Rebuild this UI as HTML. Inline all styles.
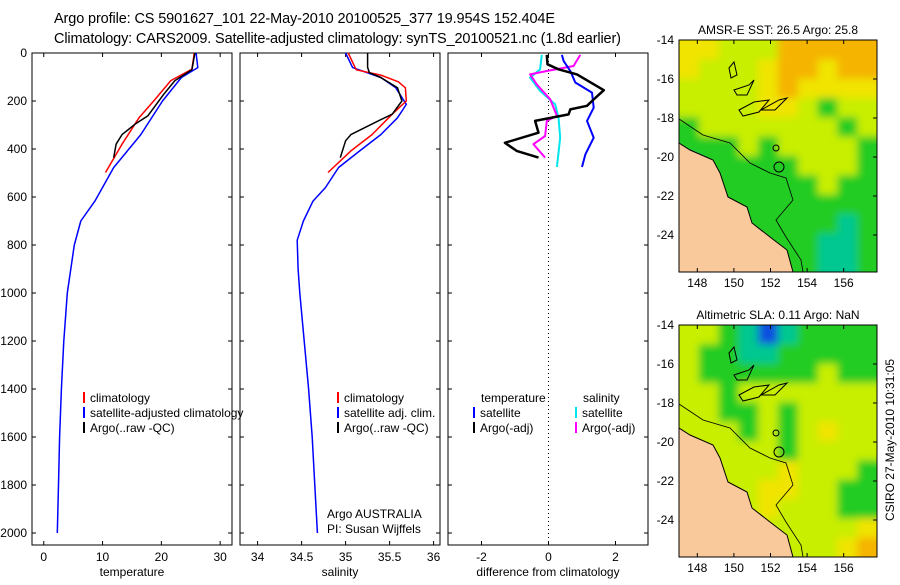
<!DOCTYPE html>
<html><head><meta charset="utf-8"><style>
body{margin:0;background:#fff;}
svg text{font-family:"Liberation Sans",sans-serif;font-size:12px;fill:#000;}
svg text.t{font-size:14.5px;}
</style></head><body>
<svg id="c" width="900" height="580" xmlns="http://www.w3.org/2000/svg">
<defs><filter id="bl" x="-5%" y="-5%" width="110%" height="110%"><feGaussianBlur stdDeviation="4"/></filter></defs>
<text class="t" x="54" y="23" textLength="501">Argo profile: CS 5901627_101 22-May-2010 20100525_377 19.954S 152.404E</text>
<text class="t" x="54" y="43" textLength="567">Climatology: CARS2009. Satellite-adjusted climatology: synTS_20100521.nc (1.8d earlier)</text>
<g id="maps"></g>
<text transform="translate(894,440) rotate(-90)" text-anchor="middle">CSIRO 27-May-2010 10:31:05</text>
</svg>
<script>
// ---- data ----
const depthTicks=[0,200,400,600,800,1000,1200,1400,1600,1800,2000];
const tempTicks=[0,10,20,30];
const salTicks=[34,34.5,35,35.5,36];
const salTickLabels=["34","34.5","35","35.5","36"];
const diffTicks=[-2,0,2];
const tSatDepth=[0,61,102,200,340,477,617,700,800,1000,1200,1400,1600,1800,2000];
const tSatVal=[25.9,26.2,23.4,20.2,16.5,11.9,8.7,6.3,5.2,4.0,3.4,3.0,2.7,2.5,2.3];
const tClimDepth=[0,67,115,200,270,380,498];
const tClimVal=[25.6,25.2,21.6,18.7,16.2,13.3,10.5];
const tArgoDepth=[0,70,115,172,262,297,340,380,436];
const tArgoVal=[25.7,25.2,22.3,20.4,17.7,15.5,13.3,12.3,11.9];
const sSatDepth=[0,61,102,145,214,270,340,408,477,561,617,700,780,900,1000,1200,1400,1600,1800,2000];
const sSatVal=[35.0,35.08,35.4,35.57,35.69,35.59,35.4,35.16,34.92,34.77,34.63,34.52,34.45,34.46,34.48,34.53,34.58,34.62,34.65,34.68];
const sClimDepth=[0,70,92,120,145,200,255,340,408,498];
const sClimVal=[35.03,35.12,35.4,35.6,35.68,35.69,35.53,35.3,35.06,34.8];
const sArgoDepth=[0,60,82,102,145,200,255,283,340,366,436];
const sArgoVal=[35.25,35.25,35.27,35.4,35.59,35.64,35.53,35.37,35.06,35.0,34.94];
const dTSatDepth=[8,33,75,123,165,228,283,353,422,475];
const dTSatVal=[0.4,0.45,0.65,0.8,1.3,1.35,1.15,1.35,1.1,1.0];
const dTArgoDepth=[8,47,68,89,155,200,220,235,256,283,332,374,408,436];
const dTArgoVal=[-0.05,-0.03,0.3,0.85,1.65,1.3,1.15,0.65,0.6,-0.4,-0.3,-1.3,-0.95,-0.3];
const dSSatDepth=[8,68,103,158,214,269,353,475];
const dSSatVal=[-0.2,-0.25,-0.55,-0.25,0.2,0.3,0.35,0.25];
const dSArgoDepth=[8,54,75,89,131,193,262,283,346,380,436];
const dSArgoVal=[0.95,0.75,-0.05,-0.55,-0.35,0.05,0.25,-0.05,-0.1,-0.45,-0.1];
const lonTicks=[148,150,152,154,156];
const latTicks=[-14,-16,-18,-20,-22,-24];
const sstGrid=["YYLLLOOOOO","YLLLYOOYOO","LLLLYOYYYY","LLLLYYLGLL","GLLLLLLLGL","GGGLGLLLLG","TGGGGGLLLG","TGGGGGGLGG","CTGGGGGGGG","CTTGGGGGTG","CCTGGGGTTG","CCBTGGGTTG"];
const slaGrid=["LLGTBTGGGG","LGGTTGGGGG","LGGGGGGLGG","LLGLLLLLLL","LLGGLGLLLL","LLLGLGLYLL","LLLLLGLLLL","LLLLLYLLLG","LLLLYYLLGG","LLLLYLLLGG","LLLLLLLLLY","LLLLLLLLYO"];

const NS="http://www.w3.org/2000/svg";
const svg=document.getElementById('c');
function el(tag,attrs,parent){const e=document.createElementNS(NS,tag);for(const k in attrs)e.setAttribute(k,attrs[k]);(parent||svg).appendChild(e);return e;}
const top0=53,bot=545;
const y=d=>top0+d*0.24;
const panels=[
 {x0:32,x1:232,v0:-2,k:5.88,ticks:tempTicks,labels:tempTicks.map(String),xl:"temperature",name:"temperature-panel"},
 {x0:240,x1:440,v0:33.8,k:88,ticks:salTicks,labels:salTickLabels,xl:"salinity",name:"salinity-panel"},
 {x0:448,x1:648,v0:-3,k:33.5,ticks:diffTicks,labels:diffTicks.map(String),xl:"difference from climatology",name:"difference-panel"}
];
panels.forEach((p,i)=>{
 p.x=v=>p.x0+(v-p.v0)*p.k;
 const g=el('g',{});
 
 
 el('rect',{x:p.x0,y:top0,width:p.x1-p.x0,height:bot-top0,fill:'none',stroke:'#000','stroke-width':1},g);
 depthTicks.forEach(d=>{
  el('line',{x1:p.x0,x2:p.x0+4,y1:y(d),y2:y(d),stroke:'#000'},g);
  el('line',{x1:p.x1,x2:p.x1-4,y1:y(d),y2:y(d),stroke:'#000'},g);
  if(i==0){const t=el('text',{x:27,y:y(d)+4,'text-anchor':'end'},g);t.textContent=d;}
 });
 p.ticks.forEach((v,j)=>{
  el('line',{x1:p.x(v),x2:p.x(v),y1:top0,y2:top0+4,stroke:'#000'},g);
  el('line',{x1:p.x(v),x2:p.x(v),y1:bot,y2:bot-4,stroke:'#000'},g);
  const t=el('text',{x:p.x(v),y:bot+16,'text-anchor':'middle'},g);t.textContent=p.labels[j];
 });
 const t=el('text',{x:(p.x0+p.x1)/2,y:bot+31,'text-anchor':'middle'},g);t.textContent=p.xl;
});
function line(p,ds,vs,color,w,name){
 const pts=ds.map((d,i)=>p.x(vs[i]).toFixed(1)+','+y(d).toFixed(1)).join(' ');
 const l=el('polyline',{points:pts,fill:'none',stroke:color,'stroke-width':w,'stroke-linejoin':'round'});
 
 
}
const P=panels;
el('line',{x1:P[2].x(0),x2:P[2].x(0),y1:top0,y2:bot,stroke:'#000','stroke-dasharray':'1,3'});
line(P[0],tSatDepth,tSatVal,'#0000ff',1.5,'temp-satellite-line');
line(P[0],tClimDepth,tClimVal,'#ff0000',1.5,'temp-climatology-line');
line(P[0],tArgoDepth,tArgoVal,'#000',1.5,'temp-argo-line');
line(P[1],sSatDepth,sSatVal,'#0000ff',1.5,'sal-satellite-line');
line(P[1],sClimDepth,sClimVal,'#ff0000',1.5,'sal-climatology-line');
line(P[1],sArgoDepth,sArgoVal,'#000',1.5,'sal-argo-line');
line(P[2],dSSatDepth,dSSatVal,'#00e5ee',2,'diff-sal-satellite-line');
line(P[2],dSArgoDepth,dSArgoVal,'#ff00ff',2,'diff-sal-argo-line');
line(P[2],dTSatDepth,dTSatVal,'#0000ff',2,'diff-temp-satellite-line');
line(P[2],dTArgoDepth,dTArgoVal,'#000',2.5,'diff-temp-argo-line');
function legend(x,yy,color,text,name){
 const g=el('g',{});
 
 
 if(color)el('line',{x1:x,x2:x,y1:yy-10,y2:yy+1,stroke:color,'stroke-width':2},g);
 const t=el('text',{x:color?x+6:x,y:yy},g);t.textContent=text;
}
legend(84,402,'#ff0000','climatology','legend-climatology');
legend(84,417,'#0000ff','satellite-adjusted climatology','legend-satellite-adjusted');
legend(84,432,'#000','Argo(..raw -QC)','legend-argo');
legend(338,402,'#ff0000','climatology','legend-sal-climatology');
legend(338,417,'#0000ff','satellite adj. clim.','legend-sal-satellite');
legend(338,432,'#000','Argo(..raw -QC)','legend-sal-argo');
legend(481,402,null,'temperature','legend-temperature-header');
legend(583,402,null,'salinity','legend-salinity-header');
legend(474,417,'#0000ff','satellite','legend-diff-temp-satellite');
legend(474,432,'#000','Argo(-adj)','legend-diff-temp-argo');
legend(576,417,'#00e5ee','satellite','legend-diff-sal-satellite');
legend(576,432,'#ff00ff','Argo(-adj)','legend-diff-sal-argo');
legend(327,518,null,'Argo AUSTRALIA','argo-australia-label');
legend(327,533,null,'PI: Susan Wijffels','pi-label');
svg.appendChild(svg.querySelector('#maps'));

// ---- maps ----
const COL={O:'#f5b400',Y:'#f0e400',L:'#c8ee00',G:'#20cc20',T:'#00c890',C:'#20b0d8',B:'#1050e0'};
const land="0,103 11,110 34,120 41,133 49,157 68,167 73,183 91,197 108,210 114,232 0,232";
const shelf="0,79 24,95 51,103 71,123 91,133 107,138 114,160 97,180 107,197 122,220 124,232";
function map(ox,oy,title,grid,kind,name){
 const W=198,H=232;
 const g=el('g',{transform:`translate(${ox},${oy})`},document.getElementById('maps'));
 
 
 const cp='clip'+kind;
 const cl=el('clipPath',{id:cp},g);el('rect',{x:0,y:0,width:W,height:H},cl);
 const m=el('g',{'clip-path':`url(#${cp})`},g);
 const gb=el('g',{filter:'url(#bl)'},m);
 const cw=W/10,ch=H/12;
 grid.forEach((row,r)=>{[...row].forEach((c,k)=>{
  el('rect',{x:k*cw-(k==0?10:0),y:r*ch-(r==0?10:0),width:cw+1+(k==0||k==9?10:0),height:ch+1+(r==0||r==11?10:0),fill:COL[c]},gb);
 });});
 el('polygon',{points:land,fill:'#fac99b',stroke:'#000','stroke-width':1},m);
 el('polyline',{points:shelf,fill:'none',stroke:'#000','stroke-width':0.8},m);
 el('circle',{cx:100,cy:127,r:5,fill:'none',stroke:'#000'},m);
 el('circle',{cx:97,cy:108,r:3,fill:'none',stroke:'#000'},m);
 el('polygon',{points:"50,28 55,22 58,35 52,38",fill:'none',stroke:'#000'},m);
 el('polygon',{points:"55,50 70,45 75,40 68,55 58,55",fill:'none',stroke:'#000'},m);
 el('polygon',{points:"60,70 75,62 90,60 80,72 64,76",fill:'none',stroke:'#000'},m);
 el('polygon',{points:"82,70 100,60 108,58 96,70",fill:'none',stroke:'#000'},m);
 el('rect',{x:0,y:0,width:W,height:H,fill:'none',stroke:'#000'},g);
 const lx=v=>(v-147)*18.3, ly=v=>(-14-v)*19.5;
 lonTicks.forEach(v=>{
  el('line',{x1:lx(v),x2:lx(v),y1:0,y2:4,stroke:'#000'},g);
  el('line',{x1:lx(v),x2:lx(v),y1:H,y2:H-4,stroke:'#000'},g);
  const t=el('text',{x:lx(v),y:H+15,'text-anchor':'middle'},g);t.textContent=v;
 });
 latTicks.forEach(v=>{
  el('line',{x1:W,x2:W-4,y1:ly(v),y2:ly(v),stroke:'#000'},g);
  const t=el('text',{x:-5,y:ly(v)+4,'text-anchor':'end'},g);t.textContent=v;
 });
 const t=el('text',{x:W/2,y:-6,'text-anchor':'middle'},g);t.textContent=title;
}
map(679,40,'AMSR-E SST: 26.5 Argo: 25.8',sstGrid,'sst','sst-map');
map(679,325,'Altimetric SLA: 0.11 Argo: NaN',slaGrid,'sla','sla-map');
</script>
</body></html>
